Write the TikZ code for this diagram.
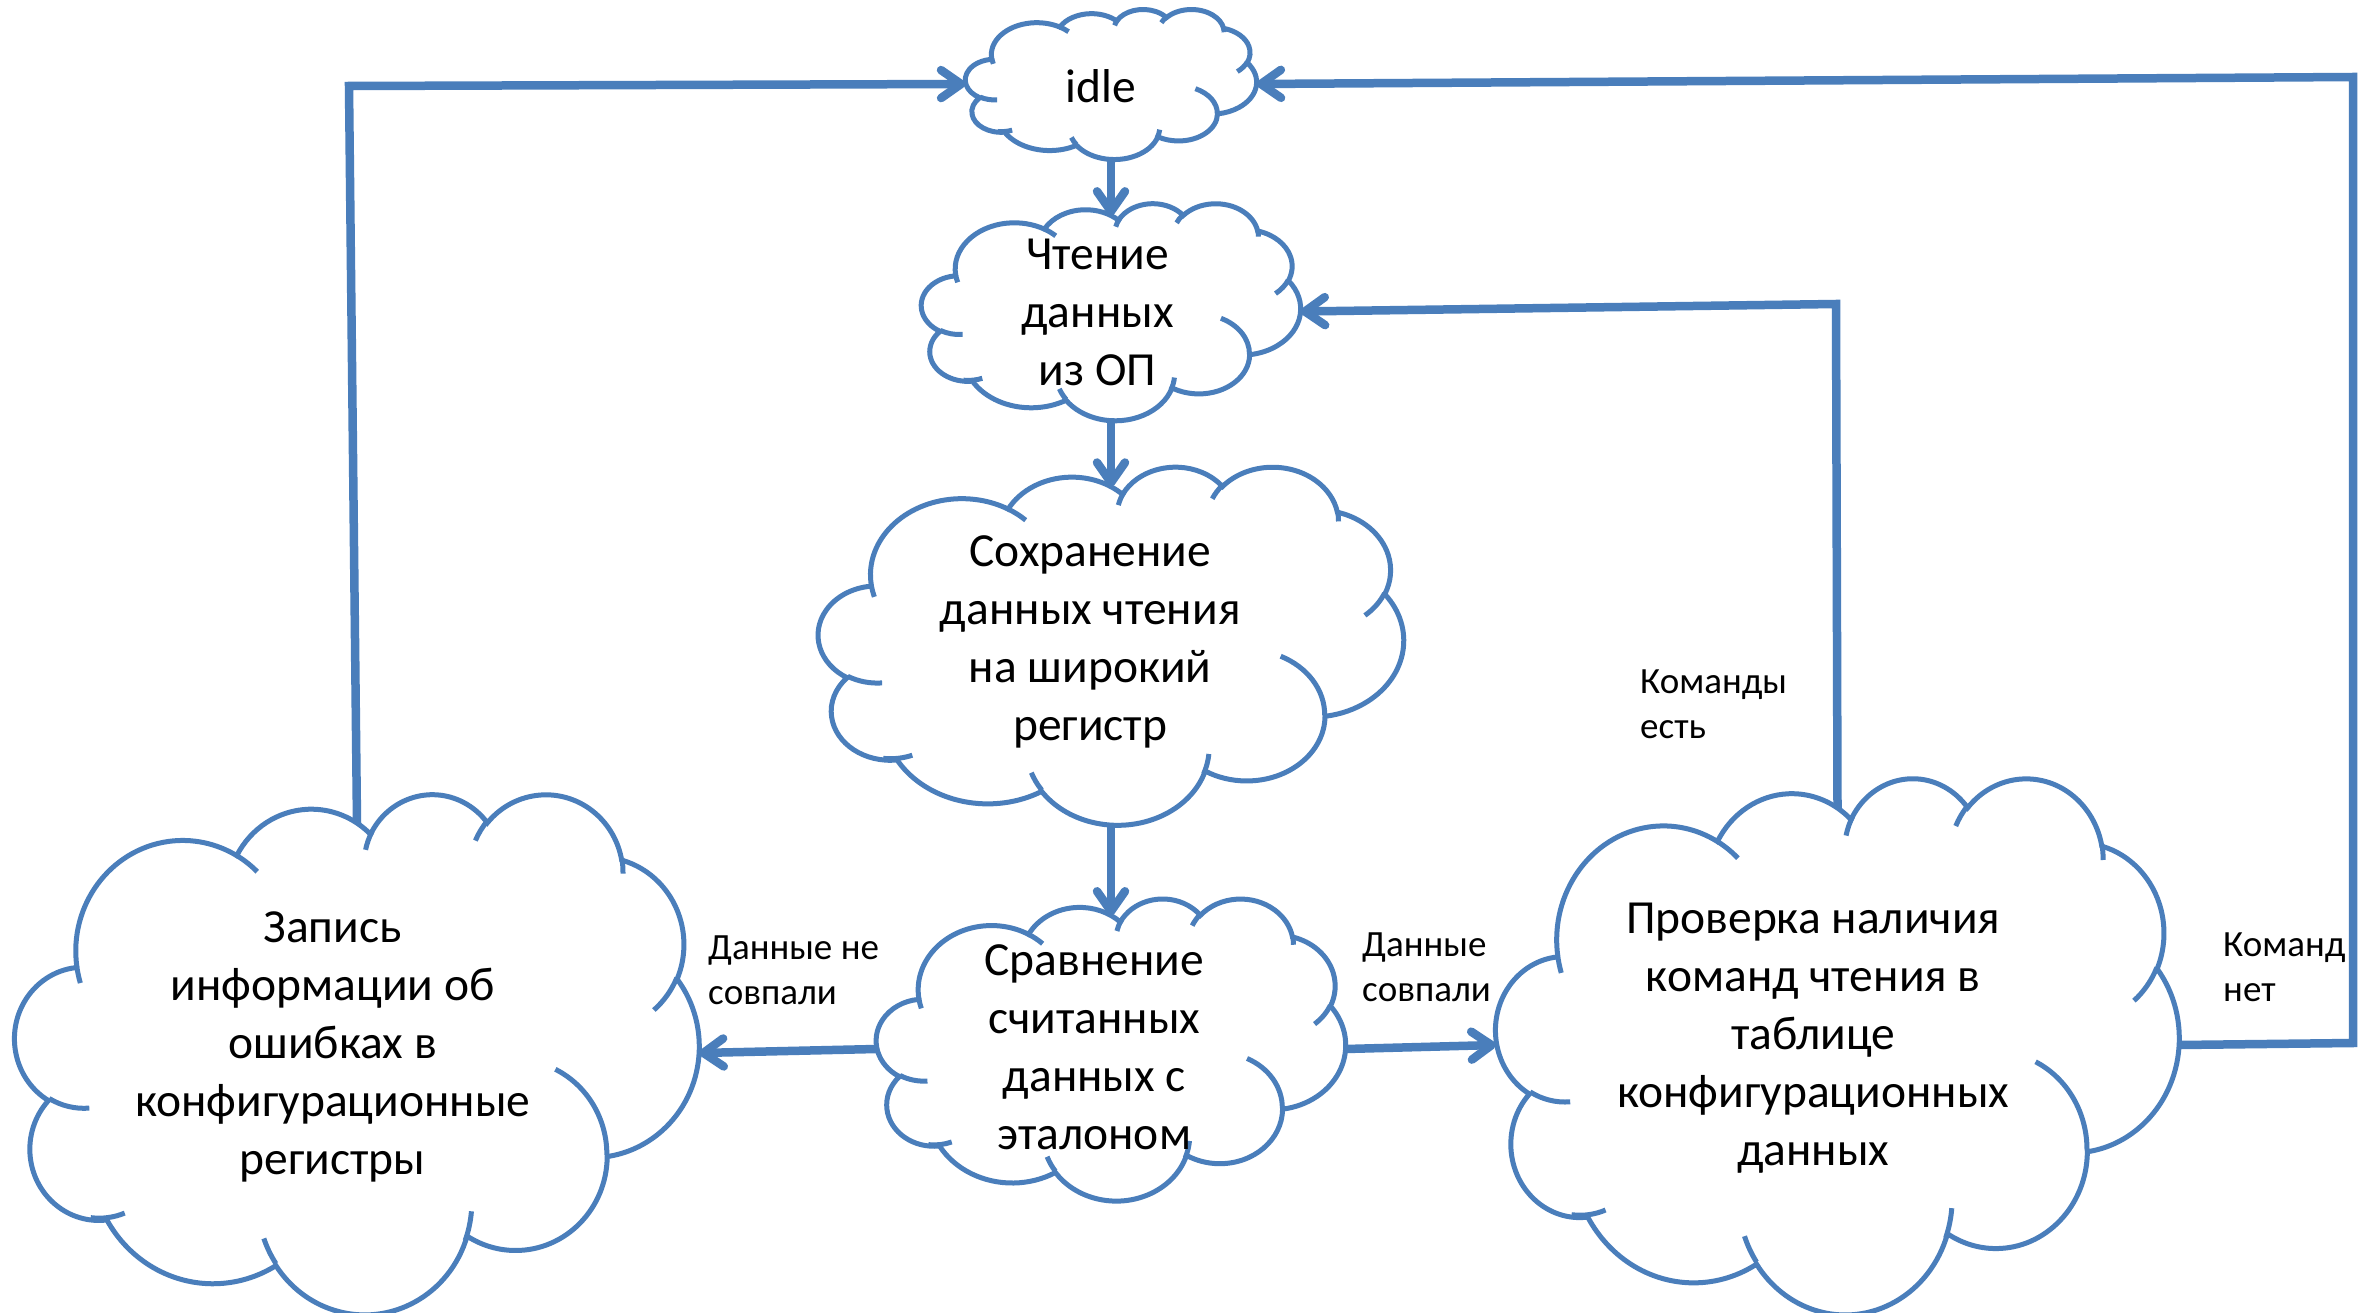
\documentclass[tikz,border=0pt]{standalone}
\usepackage{fontspec}
\setmainfont{Carlito}
\usetikzlibrary{arrows.meta}
\definecolor{flowblue}{RGB}{74,126,187}

\tikzset{
  % elliptical arc given by Office-style visual angles (degrees)
  oarc/.style n args={4}{insert path={
    arc[start angle={atan2((#1)*sin(#3),(#2)*cos(#3))},
        delta angle={mod(atan2((#1)*sin((#3)+(#4)),(#2)*cos((#3)+(#4)))-atan2((#1)*sin(#3),(#2)*cos(#3))+720,360)},
        x radius=#1, y radius=#2]}},
  cloudline/.style={draw=flowblue, line width=5pt},
  cloudframe/.style={draw=none, inner sep=0pt, shape=rectangle},
  cloudtext/.style={font=\fontsize{47.5}{58}\selectfont, align=center, inner sep=0pt},
  lbl/.style={font=\fontsize{37}{45}\selectfont, align=left, inner sep=0pt, anchor=base west},
  conn/.style={draw=flowblue, line width=8.5pt, -{Straight Barb[round,length=20pt,width=28pt]}},
}

% cloud: name, centre x, centre y, width, height, text
\newcommand\ocloud[6]{%
  \node[cloudframe, minimum width=#4pt, minimum height=#5pt] (#1) at (#2,#3) {};
  \coordinate (#1-dip) at (#2,{#3-#5/2+0.058*#5});
  \pgfmathsetmacro\cloudsx{#4/43.2}%
  \pgfmathsetmacro\cloudsy{#5/43.2}%
  \begin{scope}[shift={({#2-#4/2},{#3-#5/2})}, xscale=\cloudsx, yscale=\cloudsy]
    \draw[cloudline, fill=white] (3.9,14.37)
      [oarc={6.753}{9.19}{-190.4875}{123.7805}]
      [oarc={5.333}{7.267}{-144.1024}{89.9452}]
      [oarc={4.365}{5.945}{-145.8079}{99.7230}]
      [oarc={4.857}{6.595}{-130.9861}{117.2417}]
      [oarc={5.333}{7.273}{-78.7089}{109.0269}]
      [oarc={6.775}{9.22}{-46.2673}{130.2690}]
      [oarc={5.785}{7.867}{0.6250}{114.0333}]
      [oarc={6.752}{9.215}{22.4516}{115.1726}]
      [oarc={7.72}{10.543}{66.2426}{75.7110}]
      [oarc={4.36}{5.918}{-274.9421}{146.7356}]
      [oarc={4.345}{5.945}{-246.8285}{152.5189}] -- cycle;
    \draw[cloudline]
      (4.693,26.177) [oarc={4.345}{5.945}{86.7420}{26.4295}]
      (6.928,34.899) [oarc={4.36}{5.918}{73.6105}{21.5465}]
      (16.478,39.09) [oarc={6.752}{9.215}{137.6242}{16.8852}]
      (28.827,34.751) [oarc={6.752}{9.215}{6.4533}{20.1301}]
      (34.129,22.954) [oarc={5.785}{7.867}{-70.2924}{70.9174}]
      (41.798,15.354) [oarc={5.333}{7.273}{30.3180}{27.7515}]
      (38.324,5.426) [oarc={4.857}{6.595}{-13.7443}{14.8589}]
      (29.078,3.952) [oarc={4.857}{6.595}{-149.1815}{18.1954}]
      (22.141,4.72) [oarc={4.365}{5.945}{-163.4943}{19.5025}]
      (14,5.192) [oarc={6.753}{9.19}{-66.7070}{12.3194}]
      (4.127,15.789) [oarc={6.753}{9.19}{157.6544}{11.8582}];
  \end{scope}
  \node[cloudtext] (#1-text) at ({#2-0.0356*#4},{#3-0.0232*#5+5.5}) {#6};
}

\begin{document}
\begin{tikzpicture}[x=1pt, y=1pt, yscale=-1]
  \fill[white] (0,0) rectangle (2358,1313);
  \useasboundingbox (0,0) rectangle (2358,1313);

  % states
  \ocloud{idle}{1111}{84}{291}{150}{idle}
  \ocloud{read}{1111}{311.5}{379}{217}{Чтение\\данных\\из ОП}
  \ocloud{save}{1111}{645}{585}{358}{Сохранение\\данных чтения\\на широкий\\регистр}
  \ocloud{cmp}{1111}{1049}{469}{302}{Сравнение\\считанных\\данных с\\эталоном}
  \ocloud{err}{357}{1053}{684}{520}{Запись\\информации об\\ошибках в\\конфигурационные\\регистры}
  \ocloud{chk}{1837.5}{1045}{683}{536}{Проверка наличия\\команд чтения в\\таблице\\конфигурационных\\данных}

  % bends of the return lines
  \coordinate (errbend) at (349,86);
  \coordinate (chkbend) at (1836,304);
  \coordinate (rightlow) at (2353,1043);
  \coordinate (righttop) at (2353,77);

  % transitions
  \draw[conn] (idle.south) -- (read-dip);
  \draw[conn] (read.south) -- (save-dip);
  \draw[conn] (save.south) -- (cmp-dip);
  \draw[conn] (cmp.west) -- (err.east);
  \draw[conn] (cmp.east) -- (chk.west);
  \draw[conn] (err-dip) -- (errbend) -- (idle.west);
  \draw[conn] (chk-dip) -- (chkbend) -- (read.east);
  \draw[conn] (chk.east) -- (rightlow) -- (righttop) -- (idle.east);

  % transition labels (anchored at the baseline of the second line)
  \node[lbl] (lnomatch) at (708,1004) {Данные не\\совпали};
  \node[lbl] (lmatch) at (1362,1001) {Данные\\совпали};
  \node[lbl] (lhave) at (1640,738) {Команды\\есть};
  \node[lbl] (lnone) at (2223,1001) {Команд\\нет};
\end{tikzpicture}
\end{document}
